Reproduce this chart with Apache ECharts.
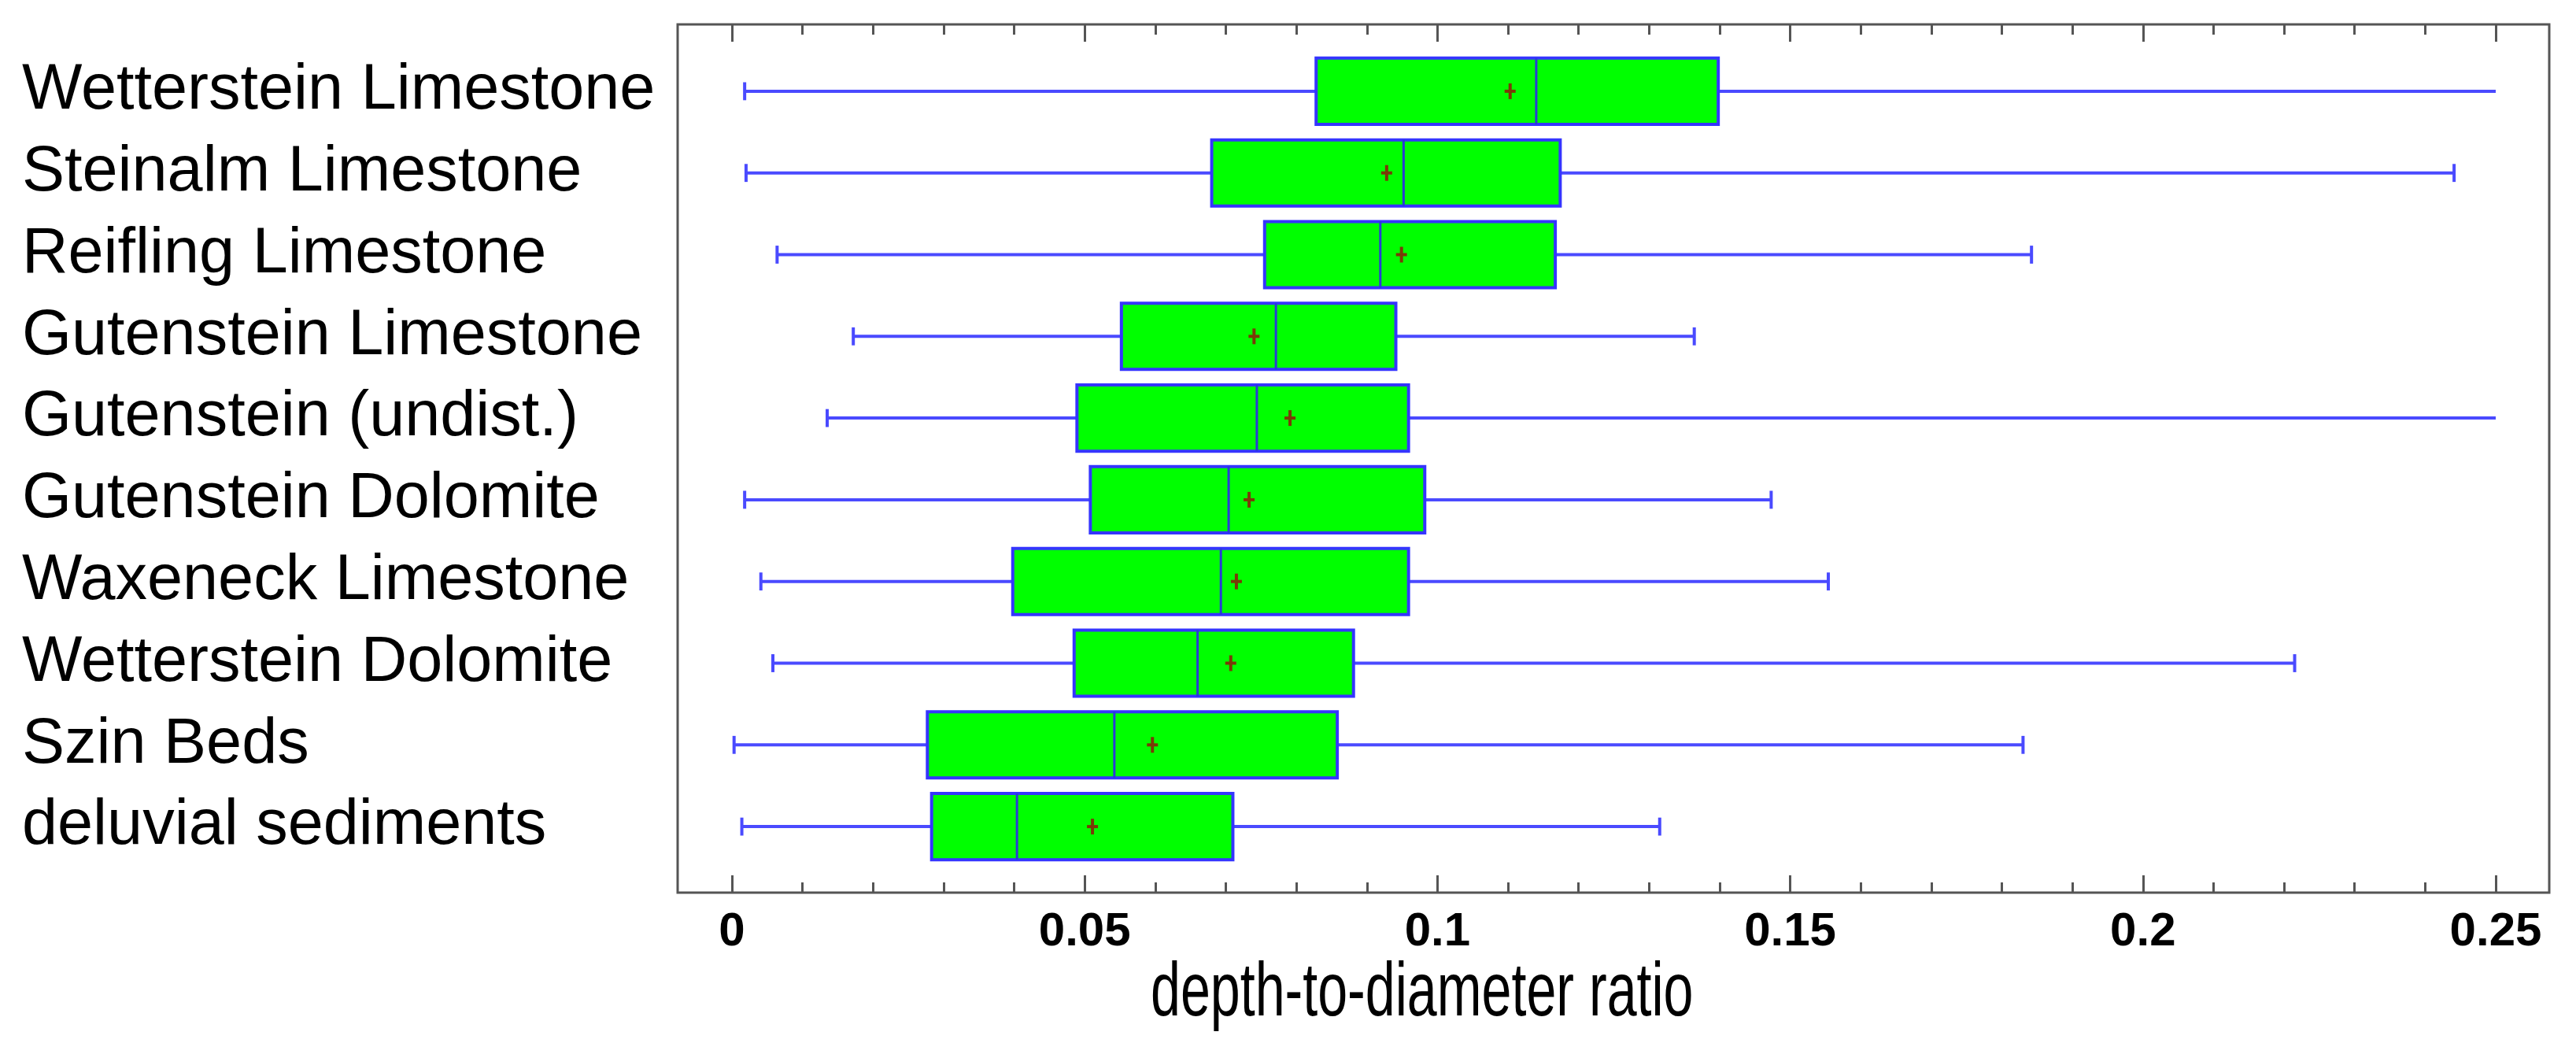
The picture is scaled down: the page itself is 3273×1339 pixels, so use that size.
<!DOCTYPE html>
<html>
<head>
<meta charset="utf-8">
<script src="https://cdn.jsdelivr.net/npm/echarts@6/dist/echarts.min.js"></script>
<style>
  html, body { margin: 0; padding: 0; background: #fff; }
  #main { width: 3273px; height: 1339px; }
</style>
</head>
<body>
<div id="main"></div>
<script>
// Categories (top to bottom)
var categories = [
    'Wetterstein Limestone',
    'Steinalm Limestone',
    'Reifling Limestone',
    'Gutenstein Limestone',
    'Gutenstein (undist.)',
    'Gutenstein Dolomite',
    'Waxeneck Limestone',
    'Wetterstein Dolomite',
    'Szin Beds',
    'deluvial sediments'
];

// Box plot statistics
var whiskerLow  = [0.0018, 0.0020, 0.0064, 0.0172, 0.0135, 0.0018, 0.0041, 0.0058, 0.0003, 0.0014];
var q1          = [0.0828, 0.0680, 0.0755, 0.0552, 0.0489, 0.0508, 0.0398, 0.0485, 0.0277, 0.0283];
var median      = [0.1140, 0.0952, 0.0919, 0.0771, 0.0744, 0.0704, 0.0693, 0.0660, 0.0542, 0.0404];
var q3          = [0.1398, 0.1174, 0.1167, 0.0941, 0.0959, 0.0982, 0.0959, 0.0881, 0.0858, 0.0710];
var whiskerHigh = [0.2500, 0.2441, 0.1842, 0.1364, 0.2500, 0.1473, 0.1554, 0.2215, 0.1830, 0.1315];
var mean        = [0.1103, 0.0928, 0.0949, 0.0740, 0.0791, 0.0733, 0.0715, 0.0707, 0.0596, 0.0511];

var xMin = 0, xMax = 0.25;
var xTitle = 'depth-to-diameter ratio';

var rows = categories.map(function (c, i) {
    return [i, whiskerLow[i], q1[i], median[i], q3[i], whiskerHigh[i], mean[i]];
});

var tickStyle = { color: '#555', width: 3 };
var whiskerColor = '#4a4aff';
var meanColor = '#7a3a08';

var myChart = echarts.init(document.getElementById('main'));

var option = {
    backgroundColor: '#fff',
    animation: false,
    textStyle: { fontFamily: "'Liberation Sans', Arial, sans-serif" },
    grid: [
        // outer frame
        { left: 861, right: 34, top: 31, bottom: 205, show: true,
          borderColor: '#555', borderWidth: 3, outerBoundsMode: 'none' },
        // tick axes
        { left: 930, right: 102, top: 31, bottom: 205, outerBoundsMode: 'none' },
        // boxes
        { left: 930, right: 102, top: 64, bottom: 237, outerBoundsMode: 'none' }
    ],
    xAxis: [
        { gridIndex: 0, type: 'value', min: 0, max: 1, show: false },
        {
            gridIndex: 1, type: 'value', position: 'bottom',
            min: xMin, max: xMax, interval: 0.05,
            axisLine: { show: false },
            axisTick: { show: true, inside: true, length: 22, lineStyle: tickStyle },
            minorTick: { show: true, splitNumber: 5, length: 13, lineStyle: tickStyle },
            splitLine: { show: false },
            minorSplitLine: { show: false },
            axisLabel: { fontSize: 60, fontWeight: 'bold', color: '#000', margin: 20 }
        },
        {
            gridIndex: 1, type: 'value', position: 'top',
            min: xMin, max: xMax, interval: 0.05,
            axisLine: { show: false },
            axisTick: { show: true, inside: true, length: 22, lineStyle: tickStyle },
            minorTick: { show: true, splitNumber: 5, length: 13, lineStyle: tickStyle },
            splitLine: { show: false },
            axisLabel: { show: false }
        },
        { gridIndex: 2, type: 'value', min: xMin, max: xMax, show: false }
    ],
    yAxis: [
        { gridIndex: 0, type: 'value', show: false },
        { gridIndex: 1, type: 'value', show: false },
        {
            gridIndex: 2, type: 'category', data: categories, inverse: true,
            axisLine: { show: false },
            axisTick: { show: false },
            splitLine: { show: false },
            axisLabel: {
                interval: 0, align: 'left', margin: 902, color: '#000',
                fontSize: 81, padding: [0, 0, 16, 0]
            }
        }
    ],
    // axis title, squeezed horizontally like the original
    graphic: [
        {
            type: 'text', x: 1462, y: 1264, scaleX: 0.71,
            style: {
                text: xTitle, fill: '#000',
                font: "96px 'Liberation Sans', Arial, sans-serif",
                textAlign: 'left', textVerticalAlign: 'middle'
            }
        }
    ],
    series: [
        {
            type: 'custom',
            xAxisIndex: 3,
            yAxisIndex: 2,
            data: rows,
            encode: { x: [1, 2, 3, 4, 5, 6], y: 0 },
            renderItem: function (params, api) {
                var i = api.value(0);
                var lo = api.coord([api.value(1), i]);
                var b1 = api.coord([api.value(2), i]);
                var md = api.coord([api.value(3), i]);
                var b3 = api.coord([api.value(4), i]);
                var hi = api.coord([api.value(5), i]);
                var mn = api.coord([api.value(6), i]);
                var band = api.size([0, 1])[1];
                var half = band * 0.405;
                var cap = band * 0.11;
                var y = lo[1];
                var wStyle = { stroke: whiskerColor, lineWidth: 4 };
                var children = [
                    { type: 'line', shape: { x1: lo[0], y1: y, x2: b1[0], y2: y }, style: wStyle },
                    { type: 'line', shape: { x1: b3[0], y1: y, x2: hi[0], y2: y }, style: wStyle },
                    { type: 'line', shape: { x1: lo[0], y1: y - cap, x2: lo[0], y2: y + cap }, style: wStyle }
                ];
                // no cap where the whisker runs off the axis
                if (api.value(5) < xMax) {
                    children.push({ type: 'line',
                        shape: { x1: hi[0], y1: y - cap, x2: hi[0], y2: y + cap }, style: wStyle });
                }
                children.push(
                    { type: 'rect',
                      shape: { x: b1[0], y: y - half, width: b3[0] - b1[0], height: half * 2 },
                      style: { fill: '#00ff00', stroke: '#3535ff', lineWidth: 4 } },
                    { type: 'line', shape: { x1: md[0], y1: y - half, x2: md[0], y2: y + half },
                      style: { stroke: '#2a3ad8', lineWidth: 3 } },
                    { type: 'line', shape: { x1: mn[0] - 7, y1: y, x2: mn[0] + 7, y2: y },
                      style: { stroke: meanColor, lineWidth: 4 } },
                    { type: 'line', shape: { x1: mn[0], y1: y - 10, x2: mn[0], y2: y + 10 },
                      style: { stroke: meanColor, lineWidth: 4 } }
                );
                return { type: 'group', children: children };
            }
        }
    ]
};

myChart.setOption(option);
</script>
</body>
</html>
